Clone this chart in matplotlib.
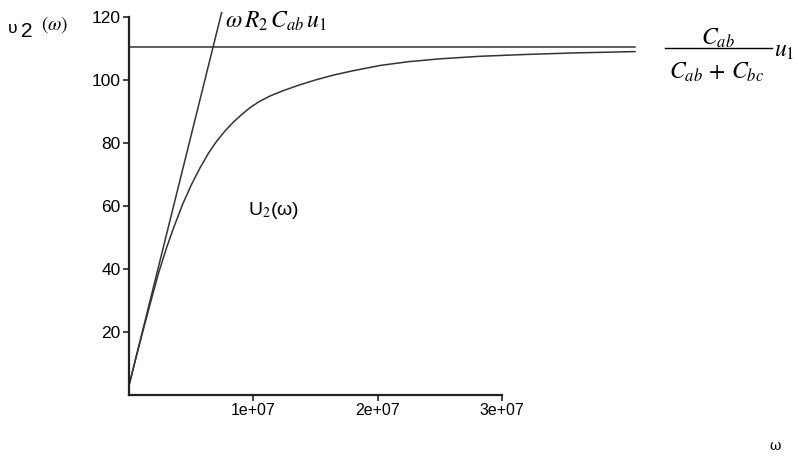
import matplotlib.pyplot as plt

plt.rcParams['font.family'] = ['Liberation Sans', 'DejaVu Sans']
plt.rcParams['mathtext.fontset'] = 'stix'

# values
curve_w = [0, 0.6e6, 1.2e6, 1.83e6, 2.4e6, 3.0e6, 3.6e6, 4.3e6, 5.0e6, 5.7e6,
           6.4e6, 7.06e6, 7.7e6, 8.39e6, 9.0e6, 9.73e6, 1.05e7, 1.14e7, 1.24e7,
           1.37e7, 1.5e7, 1.65e7, 1.8e7, 2.02e7, 2.25e7, 2.5e7, 2.82e7, 3.2e7,
           3.6e7, 4.07e7]
curve_u = [3.0, 12.5, 21.5, 30.8, 39.0, 46.5, 53.2, 60.4, 66.6, 72.0,
           76.8, 80.6, 83.7, 86.6, 88.8, 91.2, 93.2, 95.0, 96.6,
           98.4, 100.0, 101.6, 102.9, 104.6, 105.8, 106.7, 107.5, 108.1,
           108.6, 109.0]
slope_w = [0, 7.45e6]
slope_u = [3.0, 121.4]
limit_w = [0, 4.07e7]
limit_u = [110.5, 110.5]

x_ticks = [1e7, 2e7, 3e7]
x_labels = ['1e+07', '2e+07', '3e+07']
y_ticks = [20, 40, 60, 80, 100, 120]

fig = plt.figure(figsize=(7.97, 4.59), dpi=100)
ax = fig.add_axes([129 / 797, 1 - 395 / 459, (640 - 129) / 797, (395 - 10) / 459])

lc = '#333333'
ax.plot(curve_w, curve_u, color=lc, lw=1.1, clip_on=False)
ax.plot(slope_w, slope_u, color=lc, lw=1.1, clip_on=False)
ax.plot(limit_w, limit_u, color=lc, lw=1.1, clip_on=False)

ax.set_xlim(0, 4.11e7)
ax.set_ylim(0, 122.2)

for s in ['top', 'right']:
    ax.spines[s].set_visible(False)
ax.spines['left'].set_bounds(0, 120)
ax.spines['bottom'].set_bounds(0, 3e7)
for s in ['left', 'bottom']:
    ax.spines[s].set_linewidth(1.6)
    ax.spines[s].set_color('#222222')

ax.set_xticks(x_ticks)
ax.set_xticklabels(x_labels)
ax.set_yticks(y_ticks)
ax.tick_params(axis='both', direction='out', length=4.5, width=1.2,
               color='#222222', pad=1.5)
ax.tick_params(axis='x', labelsize=11.5)
ax.tick_params(axis='y', labelsize=12.5)

# axis labels and annotations
fig.text(8 / 797, 1 - 33 / 459, 'υ', fontsize=12.5, va='baseline')
fig.text(21 / 797, 1 - 37 / 459, '2', fontsize=15, va='baseline')
fig.text(41 / 797, 1 - 30 / 459, r'$(\omega)$', fontsize=14, va='baseline')
fig.text(775 / 797, 1 - 450 / 459, 'ω', fontsize=10, ha='center', va='baseline',
         family='DejaVu Serif')

fig.text(225 / 797, 1 - 28 / 459, r'$\omega\, R_2\, C_{ab}\, u_1$', fontsize=17,
         va='baseline')

# right-hand fraction, built from parts
fig.text(718 / 797, 1 - 38 / 459, r'$C_{ab}$', fontsize=17, ha='center',
         va='center')
fig.add_artist(plt.Line2D([665 / 797, 772 / 797], [1 - 48 / 459, 1 - 48 / 459],
                          color='black', lw=1.0))
fig.text(717 / 797, 1 - 72 / 459, r'$C_{ab}\,+\,C_{bc}$', fontsize=17,
         ha='center', va='center')
fig.text(774 / 797, 1 - 51 / 459, r'$u_1$', fontsize=17, va='center')

ax.text(9.6e6, 58.5, r'U$_{\mathit{2}}$(ω)', fontsize=14, va='center')

fig.savefig('out.png', dpi=100)
